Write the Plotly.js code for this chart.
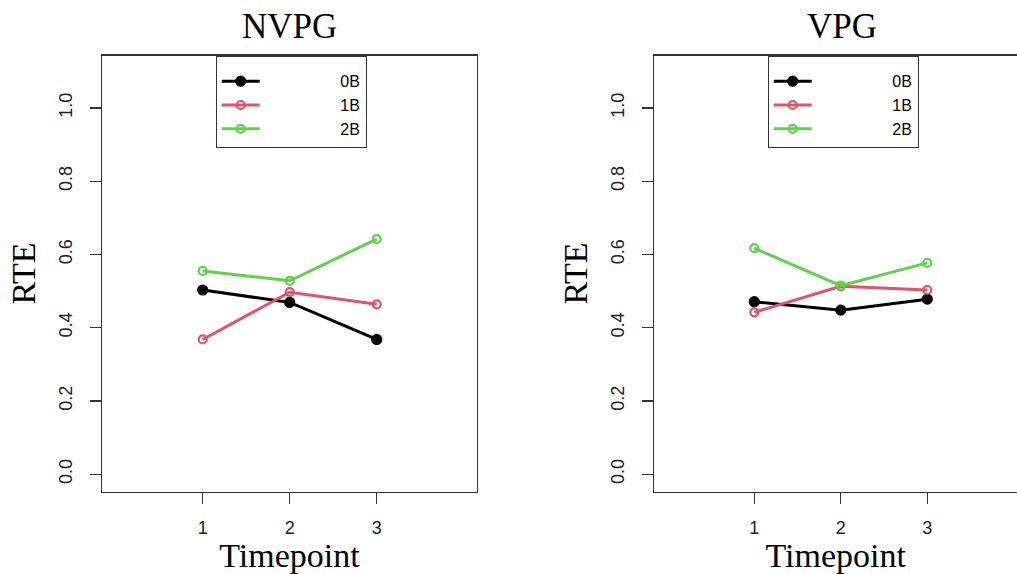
<!DOCTYPE html>
<html><head><meta charset="utf-8">
<script src="https://cdn.plot.ly/plotly-3.0.1.min.js"></script>
<style>html,body{margin:0;padding:0;background:#fff}#chart{width:1017px;height:574px}</style>
</head><body><div id="chart"></div><script>
// ---- data ----
const timepoints = [1, 2, 3];
const xTickText = ['1', '2', '3'];
const seriesNames = ['0B', '1B', '2B'];
const nvpg0B = [0.503, 0.469, 0.368];
const nvpg1B = [0.368, 0.497, 0.464];
const nvpg2B = [0.555, 0.528, 0.642];
const vpg0B = [0.471, 0.448, 0.478];
const vpg1B = [0.442, 0.513, 0.503];
const vpg2B = [0.617, 0.515, 0.577];
const yTicks = [0, 0.2, 0.4, 0.6, 0.8, 1.0];
const yTickText = ['0.0', '0.2', '0.4', '0.6', '0.8', '1.0'];
const panelTitles = ['NVPG', 'VPG'];
const xTitle = 'Timepoint';
const yTitle = 'RTE';

// ---- styles ----
const colors = ['#000000', '#DF536B', '#61D04F'];
const symbols = ['circle', 'circle-open', 'circle-open'];
const pad = '\u00a0'.repeat(17);

function makeTraces(vals, xa, ya, legendId) {
  return vals.map((v, i) => ({
    type: 'scatter', mode: 'lines+markers',
    x: timepoints, y: v, xaxis: xa, yaxis: ya,
    name: pad + seriesNames[i], legend: legendId,
    line: {color: colors[i], width: 3},
    marker: {color: colors[i], symbol: symbols[i], size: i === 0 ? 9 : 8, line: {color: colors[i], width: 2.2}},
    hoverinfo: 'x+y'
  }));
}

const data = [
  ...makeTraces([nvpg0B, nvpg1B, nvpg2B], 'x', 'y', 'legend'),
  ...makeTraces([vpg0B, vpg1B, vpg2B], 'x2', 'y2', 'legend2')
];

const W = 1017, H = 574;
const yDom = [1 - 491.5 / H, 1 - 55.5 / H];
const yRange = [-0.047, 1.143];
const axisLine = '#333333';
const tickFont = {family: 'Liberation Sans, Arial, sans-serif', size: 18, color: '#222'};
const titleFont = {family: 'Liberation Serif, Times New Roman, serif', size: 34, color: '#000'};

function xAxis(domain, range) {
  return {
    domain: domain, range: range, tickmode: 'array', tickvals: timepoints, ticktext: xTickText,
    showgrid: false, zeroline: false, showline: true, linecolor: axisLine, linewidth: 1.3, mirror: true,
    ticks: 'outside', ticklen: 11, tickwidth: 1.3, tickcolor: axisLine, tickfont: tickFont,
    ticklabelstandoff: 9,
    title: {text: xTitle, font: titleFont, standoff: 0}
  };
}
function yAxis(mirror) {
  return {
    domain: yDom, range: yRange, tickmode: 'array', tickvals: yTicks, ticktext: yTickText,
    showgrid: false, zeroline: false, showline: true, linecolor: axisLine, linewidth: 1.3, mirror: mirror,
    ticks: 'outside', ticklen: 11, tickwidth: 1.3, tickcolor: axisLine, tickfont: tickFont,
    tickangle: -90, ticklabelstandoff: 11,
    title: {text: yTitle, font: titleFont, standoff: 10}
  };
}

const legendBase = {
  yanchor: 'top', xanchor: 'left', y: yDom[1],
  bgcolor: '#ffffff', bordercolor: '#333333', borderwidth: 1,
  font: {family: 'Liberation Sans, Arial, sans-serif', size: 16, color: '#000'},
  title: {text: '\u00a0', font: {size: 6}},
  itemwidth: 38,
  tracegroupgap: 0, itemclick: false
};

const layout = {
  width: W, height: H, margin: {l: 0, r: 0, t: 0, b: 0},
  paper_bgcolor: '#fff', plot_bgcolor: '#fff', showlegend: true,
  xaxis: Object.assign(xAxis([102.3 / W, 476.7 / W], [-0.154, 4.149]), {anchor: 'y'}),
  yaxis: Object.assign(yAxis(true), {anchor: 'x'}),
  xaxis2: Object.assign(xAxis([654.3 / W, 1], [-0.156, 4.037]), {anchor: 'y2'}),
  yaxis2: Object.assign(yAxis(false), {anchor: 'x2'}),
  legend: Object.assign({}, legendBase, {x: 215.7 / W}),
  legend2: Object.assign({}, legendBase, {x: 767.7 / W}),
  annotations: [
    {text: panelTitles[0], xref: 'paper', yref: 'paper', x: 289.5 / W, y: 1 - 27 / H, xanchor: 'center', yanchor: 'middle', showarrow: false, font: {family: titleFont.family, size: 35, color: '#000'}},
    {text: panelTitles[1], xref: 'paper', yref: 'paper', x: 842 / W, y: 1 - 27 / H, xanchor: 'center', yanchor: 'middle', showarrow: false, font: {family: titleFont.family, size: 35, color: '#000'}}
  ]
};

Plotly.newPlot('chart', data, layout, {displayModeBar: false, staticPlot: true});
</script></body></html>
